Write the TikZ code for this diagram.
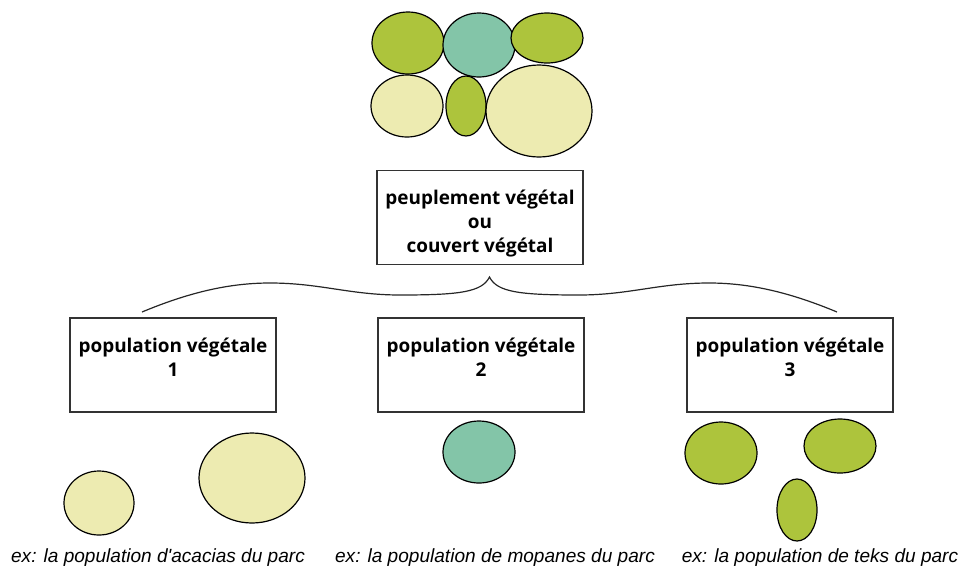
\documentclass[tikz,border=0pt]{standalone}
\usepackage{fontspec}
\setmainfont{Open Sans}
\newfontfamily\exfont{Liberation Sans}
\definecolor{cgreen}{HTML}{ADC43C}
\definecolor{cteal}{HTML}{83C5A8}
\definecolor{cpale}{HTML}{EDEBB1}
\begin{document}
\begin{tikzpicture}[x=0.75pt,y=-0.75pt,
  blob/.style={draw=black,line width=0.9pt},
  box/.style={draw=black!80,line width=1pt,minimum width=154.5pt,minimum height=70.5pt,inner sep=0pt},
  lbl/.style={align=center,font=\bfseries\fontsize{14.2}{18}\selectfont,inner sep=0pt},
  ex/.style={font=\exfont\itshape\fontsize{14.3}{16}\selectfont,inner sep=0pt},
  brace/.style={draw=black!85,line width=0.9pt}]
\useasboundingbox (0,0) rectangle (964,572);
% top cluster
\filldraw[blob,fill=cgreen] (408,43) ellipse [x radius=36, y radius=31];
\filldraw[blob,fill=cteal] (479,45) ellipse [x radius=36, y radius=32];
\filldraw[blob,fill=cgreen] (547,38) ellipse [x radius=36, y radius=25];
\filldraw[blob,fill=cpale] (407,106) ellipse [x radius=36, y radius=31];
\filldraw[blob,fill=cgreen] (466,106) ellipse [x radius=20, y radius=30];
\filldraw[blob,fill=cpale] (539,111) ellipse [x radius=53, y radius=46];
% top box
\node[box] (top) at (480,217.5) {};
\node[lbl] (toptext) at (480,224) {peuplement végétal\\ou\\couvert végétal};
% brace
\coordinate (bl) at (142,312);
\coordinate (bc) at (489.5,277);
\coordinate (br) at (837,312);
\draw[brace] (bl) .. controls (190,292) and (230,283) .. (270,283)
  .. controls (320,283) and (350,295) .. (400,295)
  .. controls (460,295) and (482,292) .. (bc)
  .. controls (497,292) and (519,295) .. (579,295)
  .. controls (629,295) and (659,283) .. (709,283)
  .. controls (749,283) and (789,292) .. (br);
% lower boxes
\node[box] (p1) at (173,365) {};
\node[box] (p2) at (481,365) {};
\node[box] (p3) at (790,365) {};
\node[lbl] (t1) at (173,357) {population végétale\\1};
\node[lbl] (t2) at (481,357) {population végétale\\2};
\node[lbl] (t3) at (790,357) {population végétale\\3};
% lower blobs
\filldraw[blob,fill=cpale] (99,503) ellipse [x radius=35, y radius=32];
\filldraw[blob,fill=cpale] (252,478) ellipse [x radius=53, y radius=45];
\filldraw[blob,fill=cteal] (479,452) ellipse [x radius=36, y radius=31];
\filldraw[blob,fill=cgreen] (721,453) ellipse [x radius=36, y radius=31];
\filldraw[blob,fill=cgreen] (840,446) ellipse [x radius=36, y radius=27];
\filldraw[blob,fill=cgreen] (797,510) ellipse [x radius=20, y radius=31];
% examples
\node[ex] (e1) at (158,558) {ex: la population d'acacias du parc};
\node[ex] (e2) at (495,558) {ex: la population de mopanes du parc};
\node[ex] (e3) at (820,558) {ex: la population de teks du parc};
\end{tikzpicture}
\end{document}
